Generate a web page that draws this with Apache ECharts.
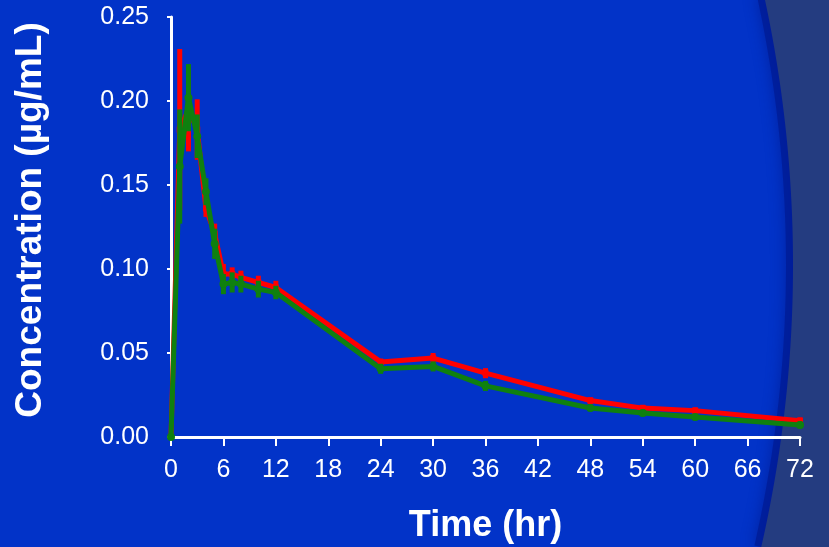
<!DOCTYPE html>
<html>
<head>
<meta charset="utf-8">
<script src="https://cdn.jsdelivr.net/npm/echarts@6/dist/echarts.min.js"></script>
<style>
html,body{margin:0;padding:0;background:#0233C8;}
#chart{width:829px;height:547px;}
</style>
</head>
<body>
<div id="chart"></div>
<script>
// Sampling times (hr)
var times = [0, 1, 2, 3, 4, 5, 6, 7, 8, 10, 12, 24, 30, 36, 48, 54, 60, 72];
// Red series: mean concentration and SD (µg/mL)
var redMean = [0, 0.183, 0.195, 0.183, 0.136, 0.121, 0.097, 0.097, 0.095, 0.092, 0.089, 0.0447, 0.047, 0.038, 0.0217, 0.0172, 0.0157, 0.0097];
var redSD   = [0, 0.048, 0.025, 0.018, 0.005, 0.006, 0.006, 0.004, 0.004, 0.004, 0.004, 0.002, 0.003, 0.003, 0.002, 0.002, 0.002, 0.002];
// Green series
var greenMean = [0, 0.161, 0.202, 0.179, 0.146, 0.115, 0.091, 0.092, 0.091, 0.088, 0.086, 0.0406, 0.042, 0.0304, 0.0173, 0.0143, 0.0119, 0.0072];
var greenSD   = [0, 0.034, 0.020, 0.013, 0.008, 0.009, 0.006, 0.006, 0.005, 0.005, 0.004, 0.003, 0.003, 0.003, 0.002, 0.002, 0.002, 0.002];
// Axis ticks
var xTicks = [0, 6, 12, 18, 24, 30, 36, 42, 48, 54, 60, 66, 72];
var yTicks = [0, 0.05, 0.10, 0.15, 0.20, 0.25];

function pairs(m) { return times.map(function (t, i) { return [t, m[i]]; }); }
function errData(m, s) { return times.map(function (t, i) { return [t, m[i] - s[i], m[i] + s[i]]; }); }

function errRender(color) {
  return function (params, api) {
    var top = api.coord([api.value(0), api.value(2)]);
    var bot = api.coord([api.value(0), api.value(1)]);
    var w = 5;
    return {
      type: 'rect',
      shape: { x: top[0] - w / 2, y: top[1], width: w, height: Math.max(bot[1] - top[1], 1) },
      style: { fill: color }
    };
  };
}

// decorative right-hand panel edge (large arc)
var arcPts = [];
(function () {
  var cx = -475, cy = 265, R = 1268;
  for (var y = -5; y <= 552; y += 6) {
    var dy = y - cy;
    arcPts.push([cx + Math.sqrt(R * R - dy * dy), y]);
  }
})();
var panelPts = arcPts.concat([[840, 552], [840, -5]]);

var RED = '#FF0000', GREEN = '#0F800F';
var FONT = 'Liberation Sans, Arial, sans-serif';
var chart = echarts.init(document.getElementById('chart'), null, { renderer: 'canvas' });
chart.setOption({
  backgroundColor: '#0233C8',
  animation: false,
  textStyle: { fontFamily: FONT },
  graphic: [
    {
      type: 'polyline', z: -11, silent: true,
      shape: { points: arcPts },
      style: { stroke: 'rgba(0,28,150,0.8)', lineWidth: 14, fill: null, shadowColor: 'rgba(0,25,140,0.8)', shadowBlur: 14 }
    },
    {
      type: 'polygon', z: -10, silent: true,
      shape: { points: panelPts },
      style: { fill: '#243C80' }
    }
  ],
  grid: { left: 171, right: 29, top: 17, bottom: 110, containLabel: false, outerBoundsMode: 'none' },
  xAxis: {
    type: 'value', min: 0, max: 72, interval: 6,
    name: 'Time (hr)', nameLocation: 'middle', nameGap: 71,
    nameTextStyle: { color: '#fff', fontSize: 36, fontWeight: 'bold', fontFamily: FONT },
    axisLine: { show: true, onZero: false, lineStyle: { color: '#fff', width: 3 } },
    axisTick: { show: true, inside: false, length: 9, lineStyle: { color: '#fff', width: 2 } },
    axisLabel: { color: '#fff', fontSize: 25, margin: 21 },
    splitLine: { show: false }
  },
  yAxis: {
    type: 'value', min: 0, max: 0.25, interval: 0.05,
    name: 'Concentration (\u00b5g/mL)', nameLocation: 'middle', nameGap: 122, nameRotate: 90,
    nameTextStyle: { color: '#fff', fontSize: 37, fontWeight: 'bold', fontFamily: FONT, padding: [0, 0, 0, 14] },
    axisLine: { show: true, onZero: false, lineStyle: { color: '#fff', width: 3 } },
    axisTick: { show: true, inside: false, length: 4, lineStyle: { color: '#fff', width: 2 } },
    axisLabel: { color: '#fff', fontSize: 25, margin: 22, formatter: function (v) { return v.toFixed(2); } },
    splitLine: { show: false }
  },
  series: [
    {
      name: 'Red SD', type: 'custom', renderItem: errRender(RED), data: errData(redMean, redSD),
      encode: { x: 0, y: [1, 2] }, z: 3, silent: true
    },
    {
      name: 'Red', type: 'line', data: pairs(redMean), symbol: 'rect', symbolSize: 6,
      lineStyle: { color: RED, width: 5 }, itemStyle: { color: RED }, z: 4
    },
    {
      name: 'Green SD', type: 'custom', renderItem: errRender(GREEN), data: errData(greenMean, greenSD),
      encode: { x: 0, y: [1, 2] }, z: 5, silent: true
    },
    {
      name: 'Green', type: 'line', data: pairs(greenMean), symbol: 'circle', symbolSize: 8,
      lineStyle: { color: GREEN, width: 5 }, itemStyle: { color: GREEN }, z: 6
    }
  ]
});
</script>
</body>
</html>
